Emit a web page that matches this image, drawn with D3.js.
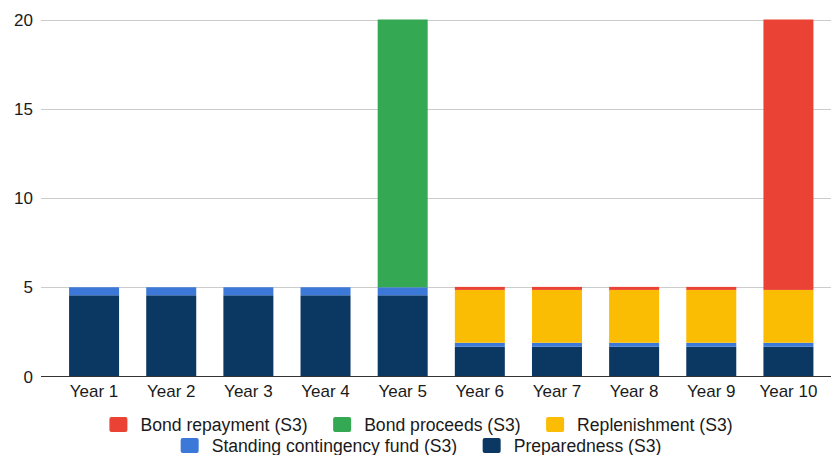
<!DOCTYPE html>
<html><head><meta charset="utf-8">
<script src="https://cdn.jsdelivr.net/npm/d3@7"></script>
<style>body{margin:0;background:#fff;}svg{display:block;font-family:"Liberation Sans",Arial,sans-serif;}</style>
</head><body><svg id="c" width="831" height="455"></svg>
<script>
const categories = ["Year 1","Year 2","Year 3","Year 4","Year 5","Year 6","Year 7","Year 8","Year 9","Year 10"];
const preparedness = [4.55,4.55,4.55,4.55,4.55,1.67,1.67,1.67,1.67,1.67];
const standingFund = [0.45,0.45,0.45,0.45,0.45,0.22,0.22,0.22,0.22,0.22];
const replenishment = [0,0,0,0,0,2.96,2.96,2.96,2.96,2.96];
const bondProceeds = [0,0,0,0,15,0,0,0,0,0];
const bondRepayment = [0,0,0,0,0,0.17,0.17,0.17,0.17,15.15];
const yTicks = [0,5,10,15,20];

const series = [
  {name:"Preparedness (S3)", values:preparedness, color:"#0b3763"},
  {name:"Standing contingency fund (S3)", values:standingFund, color:"#3c78d8"},
  {name:"Replenishment (S3)", values:replenishment, color:"#fbbc04"},
  {name:"Bond proceeds (S3)", values:bondProceeds, color:"#34a853"},
  {name:"Bond repayment (S3)", values:bondRepayment, color:"#ea4335"}
];
const legendRows = [
  ["Bond repayment (S3)","Bond proceeds (S3)","Replenishment (S3)"],
  ["Standing contingency fund (S3)","Preparedness (S3)"]
];

const svg = d3.select("#c");
const x = d3.scaleBand().domain(categories).range([55.5,827]).paddingInner(0.352).paddingOuter(0.176);
const y = d3.scaleLinear().domain([0,20]).range([376.5,19.5]);

// gridlines
svg.append("g").selectAll("line").data(yTicks.filter(d=>d>0)).join("line")
  .attr("x1",41).attr("x2",831).attr("y1",d=>Math.round(y(d))+0.5).attr("y2",d=>Math.round(y(d))+0.5)
  .attr("stroke","#cccccc").attr("stroke-width",1);

// y labels
svg.append("g").selectAll("text").data(yTicks).join("text")
  .attr("x",33).attr("y",d=>y(d)).attr("dy","0.36em").attr("text-anchor","end")
  .attr("font-size",17).attr("fill","#1a1a1a").text(d=>d);

// stack
const rows = categories.map((c,i)=>{const o={cat:c}; series.forEach(s=>o[s.name]=s.values[i]); return o;});
const stack = d3.stack().keys(series.map(s=>s.name))(rows);
const colorOf = Object.fromEntries(series.map(s=>[s.name,s.color]));

svg.append("g").selectAll("g").data(stack).join("g").attr("fill",d=>colorOf[d.key])
  .selectAll("rect").data(d=>d.filter(p=>p[1]-p[0]>0)).join("rect")
  .attr("x",d=>x(d.data.cat)).attr("width",x.bandwidth())
  .attr("y",d=>y(d[1])).attr("height",d=>y(d[0])-y(d[1]));

// baseline
svg.append("line").attr("x1",41).attr("x2",831).attr("y1",376.5).attr("y2",376.5)
  .attr("stroke","#333").attr("stroke-width",1);

// x labels
svg.append("g").selectAll("text").data(categories).join("text")
  .attr("x",d=>x(d)+x.bandwidth()/2).attr("y",397).attr("text-anchor","middle")
  .attr("font-size",17).attr("fill","#1a1a1a").text(d=>d);

// legend
const lg = svg.append("g");
const rowY = [424.5, 445.5];
legendRows.forEach((row,ri)=>{
  const g = lg.append("g");
  let cx = 0;
  row.forEach((name,k)=>{
    const it = g.append("g").attr("transform",`translate(${cx},0)`);
    it.append("rect").attr("x",0).attr("y",-7.5).attr("width",18).attr("height",15).attr("rx",2)
      .attr("fill",colorOf[name]);
    const t = it.append("text").attr("x",31).attr("dy","0.36em").attr("font-size",17.6).attr("fill","#1a1a1a").text(name);
    const w = t.node().getComputedTextLength();
    cx += 31 + w + 25.5;
  });
  const total = cx - 25.5;
  g.attr("transform",`translate(${421 - total/2},${rowY[ri]})`);
});
</script></body></html>
